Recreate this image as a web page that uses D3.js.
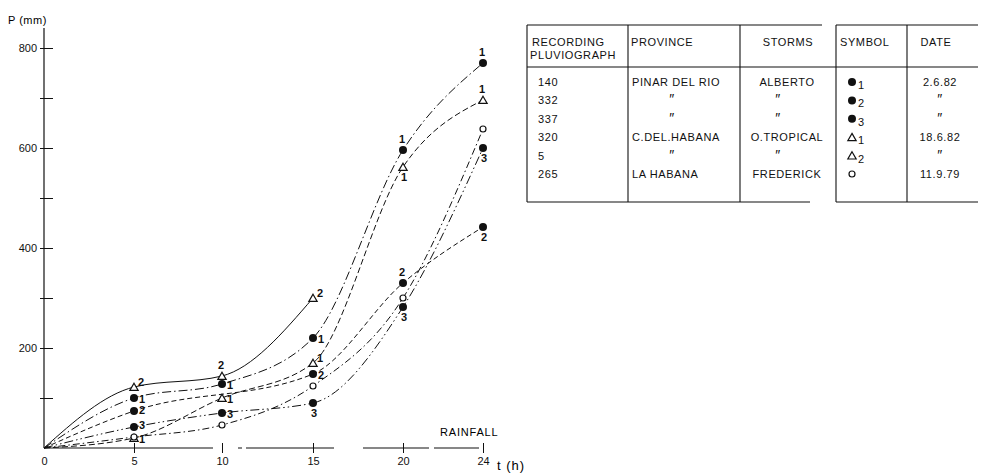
<!DOCTYPE html>
<html>
<head>
<meta charset="utf-8">
<script src="https://cdn.jsdelivr.net/npm/d3@7"></script>
<style>
  body { margin: 0; background: #fff; }
  svg { font-family: "Liberation Sans", Arial, sans-serif; }
</style>
</head>
<body>
<div id="chart"></div>
<script>
// data
var hours = [0, 5, 10, 15, 20, 24];
var rain1 = [0, 100, 128, 220, 596, 770];   // 140 Alberto
var rain2 = [0, 74, null, 148, 330, 442];   // 332 Alberto
var rain3 = [0, 42, 70, 90, 282, 600];      // 337 Alberto
var rainT1 = [0, 20, 100, 170, 562, 696];   // 320 O. Tropical
var rainT2 = [0, 122, 144, 300, null, null]; // 5 O. Tropical
var rainO = [0, 22, 46, 124, 300, 638];     // 265 Frederick

var seriesNames = ["1", "2", "3", "1", "2", ""];
var yTicks = [100, 200, 300, 400, 500, 600, 700, 800];
var xTicks = [0, 5, 10, 15, 20, 24];

// table
var colHeads = ["PROVINCE", "STORMS", "SYMBOL", "DATE"];
var pluvio = ["140", "332", "337", "320", "5", "265"];
var provinces = ["PINAR DEL RIO", "\u2033", "\u2033", "C.DEL.HABANA", "\u2033", "LA HABANA"];
var storms = ["ALBERTO", "\u2033", "\u2033", "O.TROPICAL", "\u2033", "FREDERICK"];
var dates = ["2.6.82", "\u2033", "\u2033", "18.6.82", "\u2033", "11.9.79"];

var width = 984, height = 474;

var svg = d3.select("#chart").append("svg")
    .attr("width", width)
    .attr("height", height);

var x = d3.scaleLinear().domain(hours).range([44, 134, 222, 313, 403, 483]);
var y = d3.scaleLinear().domain([0, 800]).range([448, 48]);

// line styles & label spots for each curve
var styles = [
  { vals: rain1, mark: "dot", dash: "9,3,1.5,3", labels: ["", "r", "r", "r", "t", "t"] },
  { vals: rain2, mark: "dot", dash: "5,3", labels: ["", "h", "", "r", "t", "b"] },
  { vals: rain3, mark: "dot", dash: "9,3,1.5,3,1.5,3", labels: ["", "a", "r", "b", "b", "b"] },
  { vals: rainT1, mark: "tri", dash: "6,3", labels: ["", "r", "r", "u", "b", "t"] },
  { vals: rainT2, mark: "tri", dash: null, labels: ["", "u", "t", "u", "", ""] },
  { vals: rainO, mark: "ring", dash: "7,3,1.5,3", labels: ["", "", "", "", "", ""] }
];

var offs = {
  r: [5, 5], h: [5, 3], a: [5, 2], u: [4, -1], t: [-4, -7], b: [-2, 14]
};

// axes
var yAxis = d3.axisLeft(y).tickValues(yTicks).tickSize(4).tickPadding(3)
    .tickFormat(function(d) { return d % 200 == 0 ? d : ""; });
var gy = svg.append("g").attr("transform", "translate(44,0)").call(yAxis);
gy.select(".domain").remove();
gy.selectAll(".tick").append("line").attr("x2", 9).attr("stroke", "#111");
gy.selectAll(".tick line").attr("stroke", "#111");
gy.selectAll("text").attr("font-size", 11).attr("fill", "#111");
svg.append("line").attr("x1", 44).attr("x2", 44).attr("y1", 28).attr("y2", y(0))
    .attr("stroke", "#111").attr("stroke-width", 1.2);

var xAxis = d3.axisBottom(x).tickValues(xTicks).tickSize(5).tickPadding(4)
    .tickFormat(d3.format("d"));
var gx = svg.append("g").attr("transform", "translate(0," + y(0) + ")").call(xAxis);
gx.select(".domain")
    .attr("d", "M44,0H483")
    .attr("stroke", "#111").attr("stroke-width", 1.2)
    .attr("stroke-dasharray", "169,25,4,4,88,29,66,5,45");
gx.selectAll(".tick").filter(function(d) { return d > 0; })
    .append("line").attr("y2", -5).attr("stroke", "#111");
gx.selectAll(".tick").filter(function(d) { return d == 0; }).select("line").remove();
gx.selectAll(".tick line").attr("stroke", "#111");
gx.selectAll("text").attr("font-size", 11).attr("fill", "#111");

svg.append("text").attr("x", 8).attr("y", 24).attr("font-size", 11)
    .attr("letter-spacing", 0.5).text("P (mm)");
svg.append("text").attr("x", 497).attr("y", 470).attr("font-size", 13)
    .attr("letter-spacing", 1).text("t (h)");
svg.append("text").attr("x", 440).attr("y", 436).attr("font-size", 11)
    .attr("letter-spacing", 0.8).text("RAINFALL");

// curves
var line = d3.line()
    .x(function(d) { return x(d.t); })
    .y(function(d) { return y(d.v); })
    .curve(d3.curveMonotoneX);

var triangle = d3.symbol().type(d3.symbolTriangle).size(30);

function drawMark(g, kind, cx, cy) {
  if (kind == "dot") {
    g.append("circle").attr("cx", cx).attr("cy", cy).attr("r", 4).attr("fill", "#111");
  } else if (kind == "ring") {
    g.append("circle").attr("cx", cx).attr("cy", cy).attr("r", 3)
      .attr("fill", "#fff").attr("stroke", "#111").attr("stroke-width", 1.2);
  } else {
    g.append("path").attr("d", triangle)
      .attr("transform", "translate(" + cx + "," + (cy + 1) + ")")
      .attr("fill", "#fff").attr("stroke", "#111").attr("stroke-width", 1.2);
  }
}

styles.forEach(function(s, i) {
  var pts = hours.map(function(t, k) { return { t: t, v: s.vals[k], k: k }; })
      .filter(function(d) { return d.v != null; });
  svg.append("path").datum(pts)
      .attr("d", line)
      .attr("fill", "none")
      .attr("stroke", "#111")
      .attr("stroke-width", 1)
      .attr("stroke-dasharray", s.dash);

  var g = svg.append("g");
  pts.filter(function(d) { return d.t > 0; }).forEach(function(d) {
    drawMark(g, s.mark, x(d.t), y(d.v));
    var pos = s.labels[d.k];
    if (pos) {
      g.append("text")
        .attr("x", x(d.t) + offs[pos][0])
        .attr("y", y(d.v) + offs[pos][1])
        .attr("font-size", 11).attr("font-weight", "bold").attr("fill", "#111")
        .text(seriesNames[i]);
    }
  });
});

// table
var tb = svg.append("g").attr("stroke", "#111").attr("stroke-width", 1.1);
tb.append("line").attr("x1", 527).attr("x2", 822).attr("y1", 25).attr("y2", 25);
tb.append("line").attr("x1", 836).attr("x2", 978).attr("y1", 25).attr("y2", 25);
tb.append("line").attr("x1", 527).attr("x2", 978).attr("y1", 67).attr("y2", 67);
tb.append("line").attr("x1", 527).attr("x2", 810).attr("y1", 202).attr("y2", 202);
tb.append("line").attr("x1", 836).attr("x2", 978).attr("y1", 202).attr("y2", 202);
[527, 628, 740, 836, 907].forEach(function(cx) {
  tb.append("line").attr("x1", cx).attr("x2", cx).attr("y1", 25).attr("y2", 202);
});

var tt = svg.append("g").attr("font-size", 11).attr("fill", "#111").attr("letter-spacing", 0.6);
tt.append("text").attr("x", 532).attr("y", 46).text("RECORDING");
tt.append("text").attr("x", 530).attr("y", 59).text("PLUVIOGRAPH");
tt.append("text").attr("x", 631).attr("y", 46).text(colHeads[0]);
tt.append("text").attr("x", 788).attr("y", 46).attr("text-anchor", "middle").text(colHeads[1]);
tt.append("text").attr("x", 840).attr("y", 46).text(colHeads[2]);
tt.append("text").attr("x", 936).attr("y", 46).attr("text-anchor", "middle").text(colHeads[3]);

var rowY = d3.scaleLinear().domain([0, 5]).range([86, 178]);
var dittoOn = function(s) { return s == "\u2033"; };

pluvio.forEach(function(p, i) {
  var ry = rowY(i);
  tt.append("text").attr("x", 538).attr("y", ry).text(p);
  tt.append("text")
    .attr("x", dittoOn(provinces[i]) ? 672 : 632)
    .attr("y", ry)
    .attr("text-anchor", dittoOn(provinces[i]) ? "middle" : "start")
    .attr("font-size", dittoOn(provinces[i]) ? 14 : 11)
    .text(provinces[i]);
  tt.append("text").attr("x", dittoOn(storms[i]) ? 778 : 787).attr("y", ry)
    .attr("text-anchor", "middle")
    .attr("font-size", dittoOn(storms[i]) ? 14 : 11)
    .text(storms[i]);
  tt.append("text").attr("x", 940).attr("y", ry)
    .attr("text-anchor", "middle")
    .attr("font-size", dittoOn(dates[i]) ? 14 : 11)
    .text(dates[i]);

  var s = styles[i];
  var sg = svg.append("g");
  if (s.mark == "ring") {
    drawMark(sg, "ring", 852, ry - 4);
  } else {
    drawMark(sg, s.mark, 852, ry - 4);
    sg.append("text").attr("x", 858).attr("y", ry + 3)
      .attr("font-size", 11).attr("fill", "#111").text(seriesNames[i]);
  }
});
</script>
</body>
</html>
